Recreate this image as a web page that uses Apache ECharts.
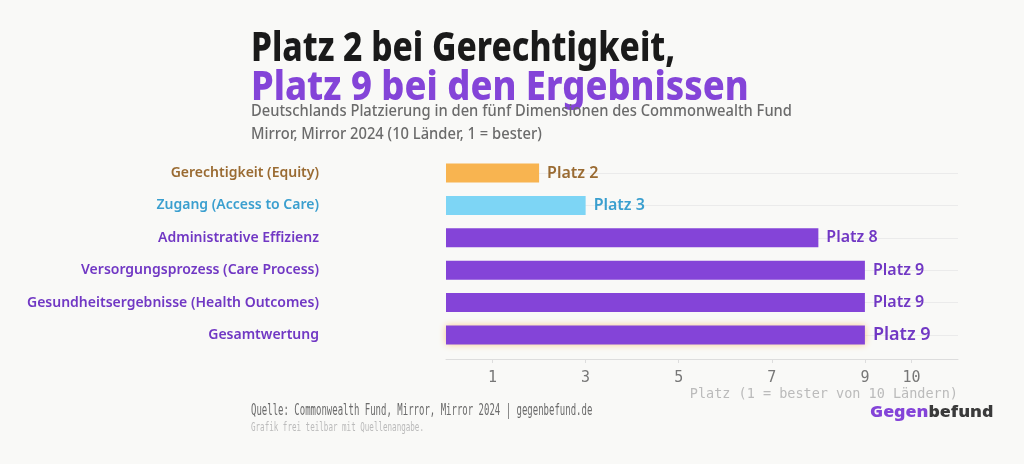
<!DOCTYPE html>
<html>
<head>
<meta charset="utf-8">
<script src="https://cdn.jsdelivr.net/npm/echarts@6/dist/echarts.min.js"></script>
<style>
  html, body { margin: 0; padding: 0; background: #f9f9f7; }
  #main { width: 1024px; height: 464px; }
</style>
</head>
<body>
<div id="main"></div>
<script>
// Daten
var categories = ['Gerechtigkeit (Equity)', 'Zugang (Access to Care)', 'Administrative Effizienz',
    'Versorgungsprozess (Care Process)', 'Gesundheitsergebnisse (Health Outcomes)', 'Gesamtwertung'];
var ranks = [2, 3, 8, 9, 9, 9];
var tickValues = [1, 3, 5, 7, 9, 10];

var barColors = ['#f8b450', '#7dd5f5', '#8444d8', '#8444d8', '#8444d8', '#8444d8'];
var textColors = ['#9a6b32', '#3a9fcf', '#7138c4', '#7138c4', '#7138c4', '#7138c4'];

var myChart = echarts.init(document.getElementById('main'));

var seriesData = ranks.map(function (v, i) {
    var item = {
        value: v,
        itemStyle: { color: barColors[i] },
        label: { color: textColors[i] }
    };
    // Gesamtwertung hervorgehoben
    if (i === ranks.length - 1) {
        item.itemStyle.shadowColor = 'rgba(250, 200, 140, 1)';
        item.itemStyle.shadowBlur = 7;
        item.label.fontSize = 18;
    }
    return item;
});

var option = {
    backgroundColor: '#f9f9f7',
    animation: false,
    grid: { left: 446, right: 66, top: 173, bottom: 129 },
    xAxis: {
        type: 'value',
        min: 0,
        max: 11,
        offset: 24,
        axisLine: { show: true, lineStyle: { color: '#dddddd', width: 1 } },
        axisTick: { show: true, customValues: tickValues, length: 4, lineStyle: { color: '#dddddd' } },
        axisLabel: {
            customValues: tickValues,
            margin: 12,
            color: '#777777',
            fontSize: 15,
            fontFamily: 'DejaVu Sans Mono'
        },
        splitLine: { show: false },
        name: 'Platz (1 = bester von 10 Ländern)',
        nameLocation: 'end',
        nameGap: 0,
        nameTextStyle: {
            align: 'right',
            verticalAlign: 'top',
            padding: [28, 0, 0, 0],
            color: '#bbbbbb',
            fontSize: 13.5,
            fontFamily: 'DejaVu Sans Mono'
        }
    },
    yAxis: {
        type: 'category',
        inverse: true,
        boundaryGap: false,
        data: categories,
        axisLine: { show: false },
        axisTick: { show: false },
        splitLine: { show: true, lineStyle: { color: '#ebebeb', width: 1 } },
        axisLabel: {
            margin: 127,
            fontSize: 14,
            fontWeight: 600,
            fontFamily: 'Noto Sans',
            color: function (val, idx) {
                return textColors[idx];
            }
        }
    },
    series: [{
        type: 'bar',
        barWidth: 19,
        data: seriesData,
        label: {
            show: true,
            position: 'right',
            distance: 8,
            fontSize: 16,
            fontWeight: 600,
            fontFamily: 'Noto Sans',
            formatter: function (p) { return 'Platz ' + p.value; }
        }
    }],
    graphic: [
        {
            type: 'text', left: 251, top: 29, scaleX: 0.817,
            style: { text: 'Platz 2 bei Gerechtigkeit,', fill: '#1a1a1a', fontSize: 41, fontWeight: 800, fontFamily: 'Noto Sans' }
        },
        {
            type: 'text', left: 251, top: 68, scaleX: 0.886,
            style: { text: 'Platz 9 bei den Ergebnissen', fill: '#8444d8', fontSize: 41, fontWeight: 800, fontFamily: 'Noto Sans' }
        },
        {
            type: 'text', left: 251, top: 100, scaleX: 0.92,
            style: {
                text: 'Deutschlands Platzierung in den fünf Dimensionen des Commonwealth Fund\nMirror, Mirror 2024 (10 Länder, 1 = bester)',
                fill: '#6b6b6b', fontSize: 16, fontWeight: 500, lineHeight: 23, fontFamily: 'Noto Sans'
            }
        },
        {
            type: 'text', left: 251, top: 404, scaleX: 0.6,
            style: { text: 'Quelle: Commonwealth Fund, Mirror, Mirror 2024 | gegenbefund.de', fill: '#6b6b6b', fontSize: 15, fontFamily: 'DejaVu Sans Mono' }
        },
        {
            type: 'text', left: 251, top: 422, scaleX: 0.63,
            style: { text: 'Grafik frei teilbar mit Quellenangabe.', fill: '#bbbbbb', fontSize: 12, fontFamily: 'DejaVu Sans Mono' }
        },
        {
            type: 'text', left: 870, top: 404, scaleX: 1.11,
            style: {
                text: '{a|Gegen}{b|befund}',
                rich: {
                    a: { fill: '#8444d8', fontSize: 16, fontWeight: 900, fontFamily: 'Noto Sans' },
                    b: { fill: '#3a3a3a', fontSize: 16, fontWeight: 900, fontFamily: 'Noto Sans' }
                }
            }
        }
    ]
};

myChart.setOption(option);
</script>
</body>
</html>
